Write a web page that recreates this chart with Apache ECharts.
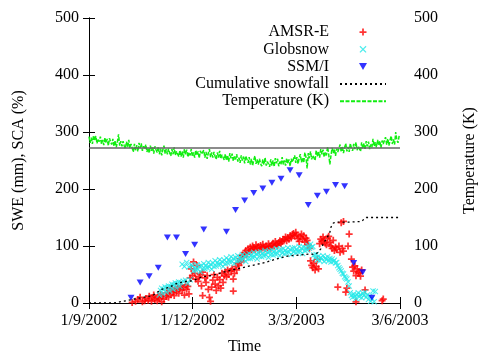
<!DOCTYPE html>
<html><head><meta charset="utf-8">
<script src="https://cdn.jsdelivr.net/npm/echarts@6/dist/echarts.min.js"></script>
<style>html,body{margin:0;padding:0;background:#fff}#c{width:486px;height:360px}</style>
</head><body><div id="c"></div>
<script>
// x values are days since 1 Sep 2002
const tickLabels = ['1/9/2002', '1/12/2002', '3/3/2003', '3/6/2003'];
const seriesNames = ['AMSR-E', 'Globsnow', 'SSM/I', 'Cumulative snowfall', 'Temperature (K)'];

const amsrE = [[38,1],[41,3],[43,6],[45,10],[47,2],[49,4],[50,8],[52,5],[53,12],[55,3],[56,9],[57,14],[58,6],[60,4],[61,11],[62,8],[63,15],[64,2],[65,13],[66,7],[68,12],[69,18],[70,10],[71,22],[72,15],[73,26],[74,19],[75,13],[76,24],[77,20],[78,28],[79,17],[80,25],[81,30],[82,22],[83,27],[84,14],[85,32],[86,24],[87,29],[88,16],[89,44],[90,60],[91,48],[92,72],[93,52],[94,42],[95,66],[96,38],[97,46],[98,50],[99,30],[100,54],[100,13],[102,44],[103,36],[104,48],[105,24],[106,10],[107,3],[108,28],[109,40],[110,50],[111,33],[112,22],[113,45],[114,30],[115,41],[116,26],[117,52],[118,36],[119,48],[120,55],[121,46],[122,58],[123,50],[127,21],[125,56],[126,60],[127,42],[128,52],[129,64],[130,58],[131,70],[132,66],[133,78],[134,72],[135,84],[136,80],[137,88],[138,92],[139,86],[140,95],[141,90],[142,98],[143,93],[144,100],[145,96],[146,94],[147,102],[148,97],[149,99],[150,93],[151,101],[152,96],[153,103],[154,98],[155,95],[156,100],[157,97],[158,104],[159,99],[160,96],[161,102],[162,105],[163,100],[164,108],[165,103],[166,101],[167,106],[168,109],[169,104],[170,108],[171,112],[172,111],[173,116],[174,109],[175,115],[176,112],[177,118],[178,114],[179,120],[180,122],[181,117],[182,124],[183,119],[184,113],[185,108],[186,116],[187,121],[188,112],[189,118],[190,107],[191,114],[192,110],[193,102],[194,96],[195,74],[196,66],[197,62],[198,70],[199,58],[200,64],[201,77],[202,60],[203,104],[204,112],[205,108],[206,116],[207,110],[208,105],[209,102],[210,114],[211,117],[212,107],[213,100],[214,96],[215,110],[216,92],[217,98],[218,94],[219,28],[220,100],[221,89],[222,141],[223,96],[224,91],[224,143],[226,19],[227,26],[229,121],[228,100],[231,77],[232,63],[233,56],[234,65],[235,48],[236,60],[237,54],[235,2],[239,47],[240,58],[243,23],[238,52],[258,4],[259,7]];

const globsnow = [[62,14],[63,22],[64,26],[65,16],[66,24],[67,28],[68,19],[69,27],[70,30],[71,21],[72,29],[73,33],[74,24],[75,32],[76,35],[77,26],[78,34],[79,37],[80,29],[81,36],[82,68],[83,38],[84,64],[85,40],[86,71],[87,34],[88,63],[89,41],[90,67],
[91,65],[92,56],[93,62],[94,58],[95,67],[96,59],[97,64],[98,55],[99,66],[100,60],
[101,69],[102,60],[103,66],[104,62],[105,71],[106,63],[107,68],[108,59],[109,70],[110,64],
[111,74],[112,65],[113,71],[114,67],[115,76],[116,68],[117,73],[118,64],[119,75],[120,69],
[121,79],[122,70],[123,76],[124,72],[125,81],[126,73],[127,78],[128,69],[129,80],[130,74],
[131,83],[132,74],[133,80],[134,76],[135,85],[136,77],[137,82],[138,73],[139,84],[140,78],
[141,87],[142,78],[143,84],[144,80],[145,89],[146,81],[147,86],[148,77],[149,88],[150,82],
[151,90],[152,81],[153,87],[154,83],[155,92],[156,84],[157,89],[158,80],[159,91],[160,85],
[161,93],[162,84],[163,90],[164,86],[165,95],[166,87],[167,92],[168,83],[169,94],[170,88],
[171,95],[172,86],[173,92],[174,88],[175,97],[176,89],[177,94],[178,85],[179,96],[180,90],
[181,97],[182,88],[183,94],[184,90],[185,99],[186,91],[187,96],[188,87],[189,98],[190,92],
[191,97],[192,93],[193,101],[194,96],[195,103],[196,98],[197,99],
[198,84],[199,79],[200,85],[201,76],[202,82],[203,74],[204,80],[205,77],[206,83],[207,73],[208,79],[209,76],[210,81],[211,74],[212,78],[213,72],[214,77],[215,73],[216,75],[217,70],
[218,71],[219,66],[220,62],[221,59],[222,56],[223,52],[224,51],[225,46],[226,44],[227,42],[228,37],[229,30],[230,18],[231,13],[232,10],[233,16],[234,12],[235,8],[236,14],[237,18],[238,11],[239,15],[240,9],[241,17],[242,13],[243,19],[244,10],[245,14],[246,6],[247,12],[248,3],[249,8],[250,21],[251,2],[252,20]];

const ssmi = [[37,9],[45,36],[53,47],[61,62],[69,115],[77,115],[85,86],[93,102],[101,129],[121,125],[129,163],[137,180],[145,193],[153,201],[161,211],[169,218],[177,233],[185,224],[193,172],[201,188],[209,195],[217,207],[225,205],[233,70],[241,54],[249,9]];

const snowfall = [[0,0],[22,0],[27,2],[33,4],[40,7],[48,10],[56,13],[61,20],[64,24],[70,27],[77,34],[85,38],[91,39],[100,46],[108,48],[118,54],[126,58],[135,62],[146,67],[155,71],[163,76],[170,80],[176,83],[186,84],[194,86],[198,85],[201,88],[204,95],[206,103],[208,110],[210,116],[212,124],[213,133],[215,140],[217,142],[230,142],[240,143],[242,147],[244,150],[273.75,150]];

// daily temperature (K) from day 0
const temperature = [292,281,290,279,294,285,293,280,288,283,
292,279,286,277,290,281,288,276,289,283,
278,288,275,285,273,283,296,276,284,275,
284,276,271,283,274,286,272,279,282,265,
279,268,277,266,281,272,280,267,275,270,
278,265,272,263,276,267,274,262,275,269,
264,274,261,271,259,269,276,262,270,261,
271,263,258,270,261,273,259,266,269,257,
268,257,266,255,270,261,269,256,264,259,
270,257,264,255,268,259,266,254,267,261,
258,268,255,265,253,263,270,256,264,255,
265,257,252,264,255,267,253,260,263,251,
261,250,259,248,263,254,262,249,257,252,
261,248,255,246,259,250,257,245,258,252,
246,256,243,253,241,251,258,244,252,243,
253,245,240,252,243,255,241,248,251,239,
252,241,250,239,254,245,253,240,248,243,
256,243,250,241,254,245,252,240,253,247,
249,259,246,256,244,254,261,247,255,246,
264,256,236,263,254,266,252,259,262,250,
268,257,266,255,270,261,269,256,264,259,
274,261,243,259,272,263,270,258,271,265,
268,278,265,275,263,273,280,266,274,265,
280,272,267,279,270,282,268,275,278,266,
282,271,280,269,284,275,283,270,278,273,
288,275,282,273,286,277,284,272,285,279,
281,291,278,288,276,286,293,279,287,278,
300,286,281,293];
const freezingPoint = 273.15;

const FONT = 'Liberation Serif';
const plusPath = 'path://M3,0H5V3H8V5H5V8H3V5H0V3H3Z';
const crossPath = 'path://M0,1L1,0L4,3L7,0L8,1L5,4L8,7L7,8L4,5L1,8L0,7L3,4Z';
const triDownPath = 'path://M0,0L8,0L4,7Z';
const chart = echarts.init(document.getElementById('c'));
const axisCommon = {
  type: 'value', min: 0, splitLine: {show: false},
  axisLine: {show: true, lineStyle: {color: '#000', width: 1}},
  axisTick: {show: true, inside: true, length: 6, lineStyle: {color: '#000'}},
  axisLabel: {color: '#000', fontFamily: FONT, fontSize: 16}
};
chart.setOption({
  animation: false,
  backgroundColor: '#fff',
  grid: {left: 89, right: 79, top: 18, bottom: 56},
  legend: {
    orient: 'vertical', align: 'right', right: 99, top: 24, padding: 0,
    itemWidth: 46, itemHeight: 7, itemGap: 1.3,
    textStyle: {fontFamily: FONT, fontSize: 16, color: '#000', padding: [0, 6, 0, 0]},
    data: [
      {name: seriesNames[0]},
      {name: seriesNames[1]},
      {name: seriesNames[2]},
      {name: seriesNames[3], itemStyle: {opacity: 0}},
      {name: seriesNames[4], itemStyle: {opacity: 0}}
    ]
  },
  xAxis: [
    Object.assign({}, axisCommon, {
      position: 'bottom', max: 273.75, interval: 91.25,
      name: 'Time', nameLocation: 'middle', nameGap: 36,
      nameTextStyle: {fontFamily: FONT, fontSize: 16, color: '#000'},
      axisLabel: {color: '#000', fontFamily: FONT, fontSize: 16, margin: 10,
        formatter: function (v) { const i = Math.round(v / 91.25); return Math.abs(v - i * 91.25) < 0.01 ? (tickLabels[i] || '') : ''; }}
    }),
    Object.assign({}, axisCommon, {position: 'top', max: 273.75, interval: 91.25, axisLabel: {show: false}})
  ],
  yAxis: [
    Object.assign({}, axisCommon, {
      position: 'left', max: 500, interval: 100,
      name: 'SWE (mm), SCA (%)', nameLocation: 'middle', nameRotate: 90, nameGap: 62,
      nameTextStyle: {fontFamily: FONT, fontSize: 16, color: '#000'},
      axisLabel: {color: '#000', fontFamily: FONT, fontSize: 16, margin: 10}
    }),
    Object.assign({}, axisCommon, {
      position: 'right', max: 500, interval: 100,
      name: 'Temperature (K)', nameLocation: 'middle', nameRotate: 90, nameGap: 62,
      nameTextStyle: {fontFamily: FONT, fontSize: 16, color: '#000'},
      axisLabel: {color: '#000', fontFamily: FONT, fontSize: 16, margin: 14}
    })
  ],
  series: [
    {name: seriesNames[0], type: 'scatter', data: amsrE, symbol: plusPath, symbolSize: 7,
      itemStyle: {color: '#ff0000'}},
    {name: seriesNames[1], type: 'scatter', data: globsnow, symbol: crossPath, symbolSize: 6,
      itemStyle: {color: '#22e8e8'}},
    {name: seriesNames[2], type: 'scatter', data: ssmi, symbol: triDownPath, symbolSize: [7, 6],
      itemStyle: {color: '#0000ff'}},
    {name: seriesNames[3], type: 'line', data: snowfall, symbol: 'none', showSymbol: false,
      lineStyle: {color: '#000', width: 1.3, type: [2, 3]}, itemStyle: {color: '#000'}},
    {name: seriesNames[4], type: 'line', yAxisIndex: 1, data: temperature.map((v, i) => [i, v]),
      symbol: 'none', showSymbol: false,
      lineStyle: {color: '#11ee11', width: 1.5, type: [4, 1.5]}, itemStyle: {color: '#11ee11'},
      markLine: {silent: true, symbol: ['none', 'none'], label: {show: false},
        lineStyle: {color: '#666', type: 'solid', width: 1.5}, data: [{yAxis: freezingPoint}]}}
  ]
});
</script>
</body></html>
